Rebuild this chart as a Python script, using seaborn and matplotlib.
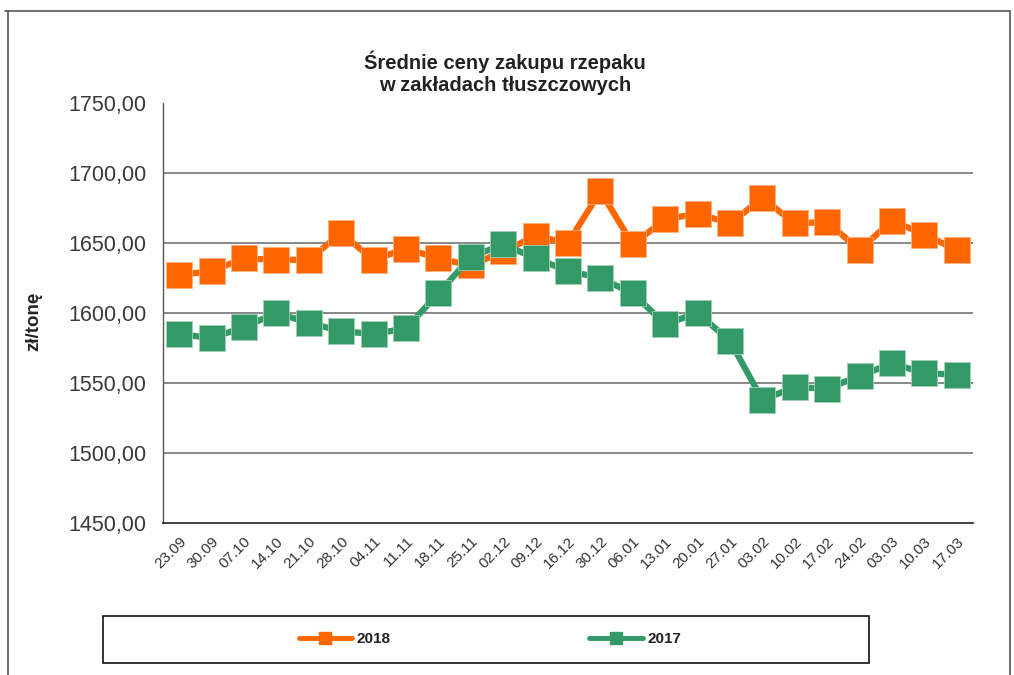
import numpy as np
import pandas as pd
import matplotlib
matplotlib.use('Agg')
import matplotlib.pyplot as plt
from matplotlib.lines import Line2D
from matplotlib.patches import Rectangle
import seaborn as sns

# data
dates = ['23.09', '30.09', '07.10', '14.10', '21.10', '28.10', '04.11', '11.11',
         '18.11', '25.11', '02.12', '09.12', '16.12', '30.12', '06.01', '13.01',
         '20.01', '27.01', '03.02', '10.02', '17.02', '24.02', '03.03', '10.03', '17.03']
price_2018 = [1627, 1630, 1639, 1638, 1638, 1657, 1638, 1646, 1639, 1634, 1644, 1655, 1650,
              1687, 1649, 1667, 1671, 1664, 1682, 1664, 1665, 1645, 1666, 1656, 1645]
price_2017 = [1585, 1582, 1590, 1600, 1593, 1587, 1585, 1589, 1614, 1640, 1649, 1639, 1630,
              1625, 1614, 1592, 1600, 1580, 1538, 1547, 1546, 1555, 1564, 1557, 1556]
yticks = [1450, 1500, 1550, 1600, 1650, 1700, 1750]

orange = '#FF6600'
green = '#339966'

sns.set_style('white')
plt.rcParams['font.family'] = ['Liberation Sans', 'DejaVu Sans']

df = pd.DataFrame({'pos': np.arange(len(dates)), 'y2018': price_2018, 'y2017': price_2017})

fig = plt.figure(figsize=(10.14, 6.75), dpi=100)
ax = fig.add_axes([0.1607, 0.2252, 0.7989, 0.6222])

sns.lineplot(data=df, x='pos', y='y2018', ax=ax, color=orange, linewidth=4.5,
             marker='s', markersize=19, markeredgecolor='#ffb080', markeredgewidth=0.6)
sns.lineplot(data=df, x='pos', y='y2017', ax=ax, color=green, linewidth=4.5,
             marker='s', markersize=19, markeredgecolor='#9fd0b5', markeredgewidth=0.6)

ax.set_xlim(-0.5, len(dates) - 0.5)
ax.set_ylim(1450, 1750)
ax.set_yticks(yticks)
ax.set_yticklabels([f'{v},00' for v in yticks], fontsize=15.5, color='#3a3a3a')
for v in yticks[1:-1]:
    ax.axhline(v, color='#7f7f7f', linewidth=1.3, zorder=0)

ax.set_xticks(np.arange(len(dates) + 1) - 0.5)
ax.set_xticklabels([])
ax.set_xticks(np.arange(len(dates)), minor=True)
ax.set_xticklabels(dates, minor=True, rotation=45, ha='right', rotation_mode='anchor',
                   fontsize=11, color='#333333')
ax.tick_params(axis='x', which='major', length=5, width=1, color='#333333', direction='out')
ax.tick_params(axis='x', which='minor', length=0, pad=8)
ax.tick_params(axis='y', length=5, width=1, color='#333333', direction='out', pad=7)

for s in ['top', 'right']:
    ax.spines[s].set_visible(False)
ax.spines['left'].set_color('#555555')
ax.spines['bottom'].set_color('#222222')
ax.spines['left'].set_linewidth(1)
ax.spines['bottom'].set_linewidth(1.2)

ax.set_xlabel('')
ax.set_ylabel('zł/tonę', fontsize=13.5, fontweight='bold', color='#222222')
ax.yaxis.set_label_coords(-0.149, 0.479)

fig.text(0.498, 0.892, 'Średnie ceny zakupu rzepaku\nw zakładach tłuszczowych', ha='center',
         va='center', fontsize=14.5, fontweight='bold', color='#222222', linespacing=1.2)

# outer frame
fig.add_artist(Line2D([5 / 1014, 1010 / 1014], [1 - 11 / 675, 1 - 11 / 675],
                      color='#555555', linewidth=1.2))
fig.add_artist(Line2D([8 / 1014, 8 / 1014], [0, 1 - 11 / 675], color='#555555', linewidth=1.2))
fig.add_artist(Line2D([1010 / 1014, 1010 / 1014], [0, 1 - 11 / 675], color='#555555', linewidth=1.2))

# legend box
fig.add_artist(Rectangle((103 / 1014, 1 - 663 / 675), 766 / 1014, 47 / 675,
                         transform=fig.transFigure, fill=False, edgecolor='#111111', linewidth=1.2))
handles = [Line2D([], [], color=orange, linewidth=3.5, marker='s', markersize=8),
           Line2D([], [], color=green, linewidth=3.5, marker='s', markersize=8)]
leg = fig.legend(handles, ['2018', '2017'], loc='center', bbox_to_anchor=(490 / 1014, 1 - 639 / 675),
                 ncol=2, frameon=False, handlelength=3.5, columnspacing=13, handletextpad=0.3,
                 prop={'weight': 'bold', 'size': 11})
for t in leg.get_texts():
    t.set_color('#222222')

fig.savefig('out.png', dpi=100)
